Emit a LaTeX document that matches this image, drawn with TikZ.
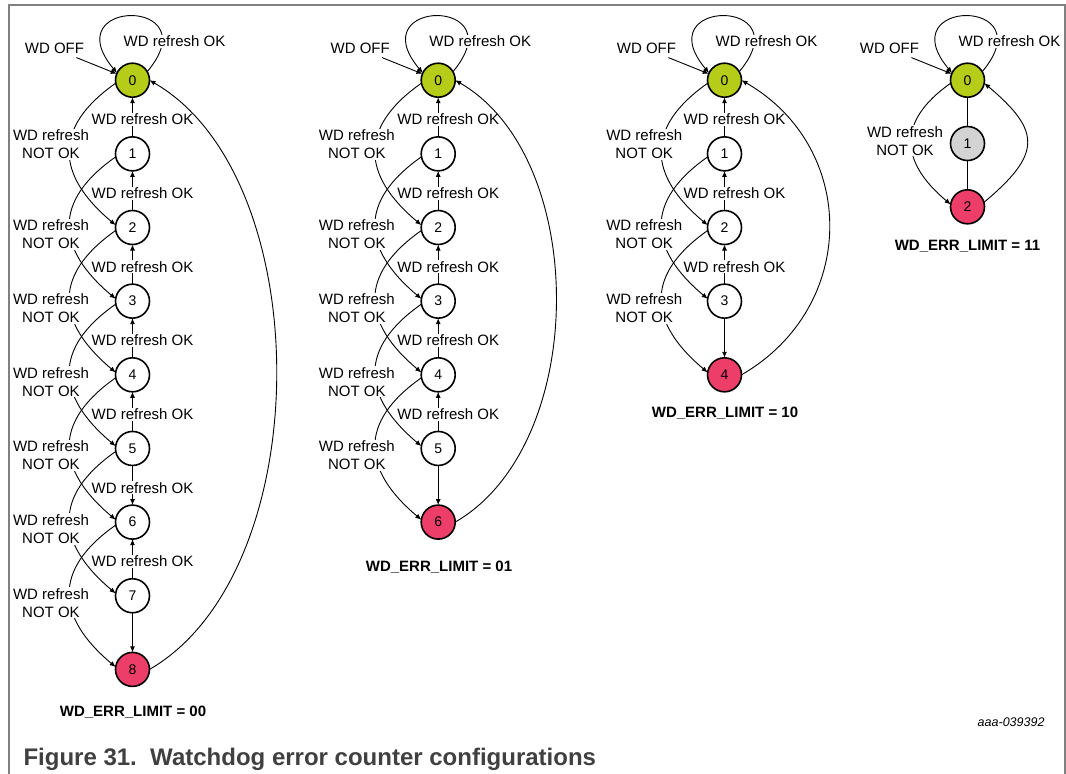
\documentclass[tikz,border=0pt]{standalone}
\usepackage{fontspec}
\setmainfont{Liberation Sans}
\usetikzlibrary{matrix,arrows.meta}

\definecolor{wdgreen}{RGB}{181,204,24}
\definecolor{wdred}{RGB}{237,62,105}
\definecolor{wdgrey}{RGB}{211,211,211}
\definecolor{framegrey}{RGB}{128,128,128}
\definecolor{captiongrey}{RGB}{64,64,64}

\begin{document}
\begin{tikzpicture}[x=1pt,y=1pt,>={Latex[length=6pt,width=5pt]},
  every node/.style={font=\fontsize{15}{18}\selectfont},
  state/.style={draw,circle,line width=1.6pt,minimum size=34pt,inner sep=0pt,
    outer sep=0pt,fill=white,font=\fontsize{14}{16}\selectfont},
  wdline/.style={line width=0.9pt},
  oklbl/.style={midway,fill=white,inner sep=1pt,xshift=10pt,yshift=-2.5pt},
  noklbl/.style={fill=white,align=center,inner sep=1pt},
  limit/.style={anchor=base,font=\bfseries\fontsize{15}{18}\selectfont}]
\useasboundingbox (0,0) rectangle (1066,-774);
\draw[framegrey,line width=1.5pt] (9,-774) -- (9,-5) -- (1065,-5) -- (1065,-774);

% WD_ERR_LIMIT = 00
\matrix[matrix of nodes,matrix anchor=north,inner sep=0pt,row sep=38.05pt,
  nodes={state}] (a) at (132.5,-62.2) {
  |[fill=wdgreen]| 0 \\
  1 \\
  2 \\
  3 \\
  4 \\
  5 \\
  6 \\
  7 \\
  |[fill=wdred]| 8 \\
};
\draw[wdline,->] (a-1-1.190) to[out=215,in=140,looseness=1.4] (a-3-1.172);
\draw[wdline,->] (a-2-1.190) to[out=215,in=140,looseness=1.4] (a-4-1.172);
\draw[wdline,->] (a-3-1.190) to[out=215,in=140,looseness=1.4] (a-5-1.172);
\draw[wdline,->] (a-4-1.190) to[out=215,in=140,looseness=1.4] (a-6-1.172);
\draw[wdline,->] (a-5-1.190) to[out=215,in=140,looseness=1.4] (a-7-1.172);
\draw[wdline,->] (a-6-1.190) to[out=215,in=140,looseness=1.4] (a-8-1.172);
\draw[wdline,->] (a-7-1.190) to[out=215,in=140,looseness=1.4] (a-9-1.172);
%
\draw[wdline,->] (a-2-1) -- (a-1-1) node[oklbl] (okA1) {WD refresh OK};
\draw[wdline,->] (a-3-1) -- (a-2-1) node[oklbl] (okA2) {WD refresh OK};
\draw[wdline,->] (a-4-1) -- (a-3-1) node[oklbl] (okA3) {WD refresh OK};
\draw[wdline,->] (a-5-1) -- (a-4-1) node[oklbl] (okA4) {WD refresh OK};
\draw[wdline,->] (a-6-1) -- (a-5-1) node[oklbl] (okA5) {WD refresh OK};
\draw[wdline,->] (a-6-1) -- (a-7-1) node[oklbl] (okA6) {WD refresh OK};
\draw[wdline,->] (a-8-1) -- (a-7-1) node[oklbl] (okA7) {WD refresh OK};
\draw[wdline,->] (a-8-1) -- (a-9-1);
%
\node[noklbl] (nokA1) at ([shift={(-81.5,9.75)}]a-2-1) {WD refresh\\NOT OK};
\node[noklbl] (nokA2) at ([shift={(-81.5,-6.9)}]a-3-1) {WD refresh\\NOT OK};
\node[noklbl] (nokA3) at ([shift={(-81.5,-6.9)}]a-4-1) {WD refresh\\NOT OK};
\node[noklbl] (nokA4) at ([shift={(-81.5,-6.9)}]a-5-1) {WD refresh\\NOT OK};
\node[noklbl] (nokA5) at ([shift={(-81.5,-6.9)}]a-6-1) {WD refresh\\NOT OK};
\node[noklbl] (nokA6) at ([shift={(-81.5,-6.9)}]a-7-1) {WD refresh\\NOT OK};
\node[noklbl] (nokA7) at ([shift={(-81.5,-6.9)}]a-8-1) {WD refresh\\NOT OK};
%
\draw[wdline,->] (a-9-1.east) to[out=30,in=-30,distance=195pt] (a-1-1.east);
\draw[wdline,->] (a-1-1.30) to[out=50,in=130,distance=98pt] (a-1-1.155);
\node[noklbl,anchor=base] (loopA) at ([shift={(42,33.6)}]a-1-1) {WD refresh OK};
\node[anchor=base] (offA) at ([shift={(-78,26.3)}]a-1-1) {WD OFF};
\draw[wdline,->] (offA) -- (a-1-1);
\node[limit] (limA) at ([shift={(0.5,-47.2)}]a-9-1) {WD\_ERR\_LIMIT = 00};

% WD_ERR_LIMIT = 01
\matrix[matrix of nodes,matrix anchor=north,inner sep=0pt,row sep=38.05pt,
  nodes={state}] (b) at (438.2,-62.2) {
  |[fill=wdgreen]| 0 \\
  1 \\
  2 \\
  3 \\
  4 \\
  5 \\
  |[fill=wdred]| 6 \\
};
\draw[wdline,->] (b-1-1.190) to[out=215,in=140,looseness=1.4] (b-3-1.172);
\draw[wdline,->] (b-2-1.190) to[out=215,in=140,looseness=1.4] (b-4-1.172);
\draw[wdline,->] (b-3-1.190) to[out=215,in=140,looseness=1.4] (b-5-1.172);
\draw[wdline,->] (b-4-1.190) to[out=215,in=140,looseness=1.4] (b-6-1.172);
\draw[wdline,->] (b-5-1.190) to[out=215,in=140,looseness=1.4] (b-7-1.172);
%
\draw[wdline,->] (b-2-1) -- (b-1-1) node[oklbl] (okB1) {WD refresh OK};
\draw[wdline,->] (b-3-1) -- (b-2-1) node[oklbl] (okB2) {WD refresh OK};
\draw[wdline,->] (b-4-1) -- (b-3-1) node[oklbl] (okB3) {WD refresh OK};
\draw[wdline,->] (b-5-1) -- (b-4-1) node[oklbl] (okB4) {WD refresh OK};
\draw[wdline,->] (b-6-1) -- (b-5-1) node[oklbl] (okB5) {WD refresh OK};
\draw[wdline,->] (b-6-1) -- (b-7-1);
%
\node[noklbl] (nokB1) at ([shift={(-81.4,9.75)}]b-2-1) {WD refresh\\NOT OK};
\node[noklbl] (nokB2) at ([shift={(-81.4,-6.9)}]b-3-1) {WD refresh\\NOT OK};
\node[noklbl] (nokB3) at ([shift={(-81.4,-6.9)}]b-4-1) {WD refresh\\NOT OK};
\node[noklbl] (nokB4) at ([shift={(-81.4,-6.9)}]b-5-1) {WD refresh\\NOT OK};
\node[noklbl] (nokB5) at ([shift={(-81.4,-6.9)}]b-6-1) {WD refresh\\NOT OK};
%
\draw[wdline,->] (b-7-1.east) to[out=30,in=-30,distance=155pt] (b-1-1.east);
\draw[wdline,->] (b-1-1.30) to[out=50,in=130,distance=98pt] (b-1-1.155);
\node[noklbl,anchor=base] (loopB) at ([shift={(42,33.6)}]b-1-1) {WD refresh OK};
\node[anchor=base] (offB) at ([shift={(-78,26.3)}]b-1-1) {WD OFF};
\draw[wdline,->] (offB) -- (b-1-1);
\node[limit] (limB) at ([shift={(0.8,-49.5)}]b-7-1) {WD\_ERR\_LIMIT = 01};

% WD_ERR_LIMIT = 10
\matrix[matrix of nodes,matrix anchor=north,inner sep=0pt,row sep=38.05pt,
  nodes={state}] (c) at (724.5,-62.2) {
  |[fill=wdgreen]| 0 \\
  1 \\
  2 \\
  3 \\
  |[fill=wdred]| 4 \\
};
\draw[wdline,->] (c-1-1.190) to[out=215,in=140,looseness=1.4] (c-3-1.172);
\draw[wdline,->] (c-2-1.190) to[out=215,in=140,looseness=1.4] (c-4-1.172);
\draw[wdline,->] (c-3-1.190) to[out=215,in=140,looseness=1.4] (c-5-1.172);
%
\draw[wdline,->] (c-2-1) -- (c-1-1) node[oklbl] (okC1) {WD refresh OK};
\draw[wdline,->] (c-3-1) -- (c-2-1) node[oklbl] (okC2) {WD refresh OK};
\draw[wdline,->] (c-4-1) -- (c-3-1) node[oklbl] (okC3) {WD refresh OK};
\draw[wdline,->] (c-4-1) -- (c-5-1);
%
\node[noklbl] (nokC1) at ([shift={(-80.3,9.75)}]c-2-1) {WD refresh\\NOT OK};
\node[noklbl] (nokC2) at ([shift={(-80.3,-6.9)}]c-3-1) {WD refresh\\NOT OK};
\node[noklbl] (nokC3) at ([shift={(-80.3,-6.9)}]c-4-1) {WD refresh\\NOT OK};
%
\draw[wdline,->] (c-5-1.east) to[out=30,in=-30,distance=135pt] (c-1-1.east);
\draw[wdline,->] (c-1-1.30) to[out=50,in=130,distance=98pt] (c-1-1.155);
\node[noklbl,anchor=base] (loopC) at ([shift={(42,33.6)}]c-1-1) {WD refresh OK};
\node[anchor=base] (offC) at ([shift={(-78,26.3)}]c-1-1) {WD OFF};
\draw[wdline,->] (offC) -- (c-1-1);
\node[limit] (limC) at ([shift={(0.5,-42.8)}]c-5-1) {WD\_ERR\_LIMIT = 10};

% WD_ERR_LIMIT = 11
\matrix[matrix of nodes,matrix anchor=north,inner sep=0pt,row sep=27.7pt,
  nodes={state}] (d) at (967.5,-62.2) {
  |[fill=wdgreen]| 0 \\
  |[fill=wdgrey]| 1 \\
  |[fill=wdred]| 2 \\
};
\draw[wdline,->] (d-1-1.190) to[out=215,in=140,looseness=1.4] (d-3-1.172);
\draw[wdline] (d-1-1) -- (d-2-1) -- (d-3-1);
\node[noklbl] (nokD1) at ([shift={(-62.5,2.7)}]d-2-1) {WD refresh\\NOT OK};
%
\draw[wdline,->] (d-3-1.15) to[out=40,in=-40,distance=75pt] (d-1-1.350);
\draw[wdline,->] (d-1-1.30) to[out=50,in=130,distance=98pt] (d-1-1.155);
\node[noklbl,anchor=base] (loopD) at ([shift={(42,33.6)}]d-1-1) {WD refresh OK};
\node[anchor=base] (offD) at ([shift={(-78,26.3)}]d-1-1) {WD OFF};
\draw[wdline,->] (offD) -- (d-1-1);
\node[limit] (limD) at ([shift={(0,-43.7)}]d-3-1) {WD\_ERR\_LIMIT = 11};

\node[anchor=base east,font=\itshape\fontsize{12.5}{15}\selectfont] (docid) at (1048,-726.5) {aaa-039392};
\node[anchor=base west,text=captiongrey,font=\bfseries\fontsize{24}{28}\selectfont] (caption) at (20,-765) {Figure 31.\ \ Watchdog error counter configurations};
\end{tikzpicture}
\end{document}
